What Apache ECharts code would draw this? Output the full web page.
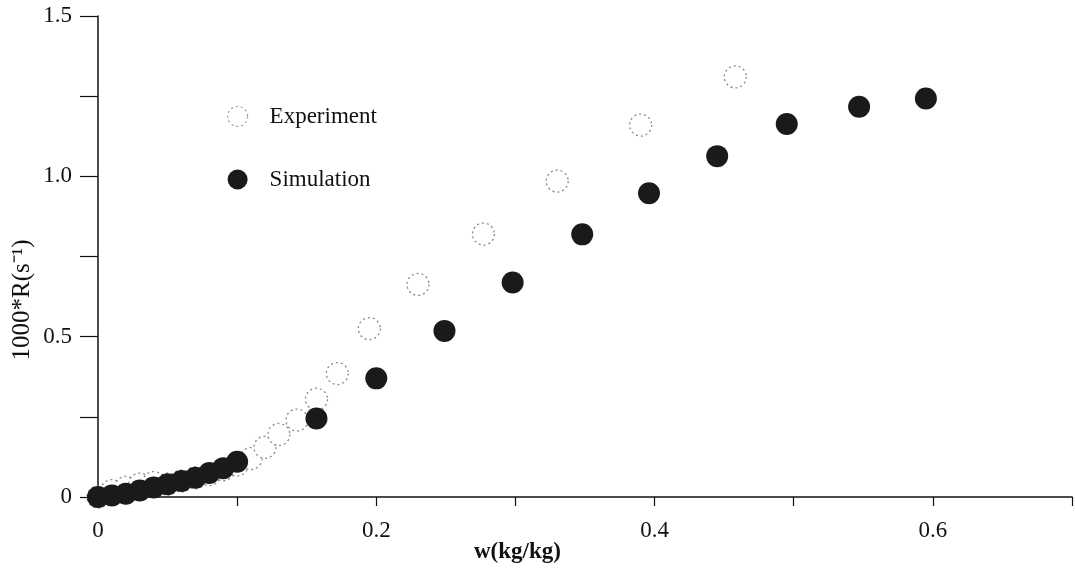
<!DOCTYPE html>
<html>
<head>
<meta charset="utf-8">
<script src="https://cdn.jsdelivr.net/npm/echarts@6/dist/echarts.min.js"></script>
<style>html,body{margin:0;padding:0;background:#fff}#c{width:1075px;height:574px}</style>
</head>
<body>
<div id="c"></div>
<script>
// Data
const expX = [0, 0.01, 0.02, 0.03, 0.04, 0.05, 0.06, 0.07, 0.08, 0.09, 0.10, 0.11, 0.12, 0.13, 0.143, 0.157, 0.172, 0.195, 0.23, 0.277, 0.33, 0.39, 0.458];
const expY = [0, 0.02, 0.03, 0.04, 0.045, 0.04, 0.05, 0.06, 0.07, 0.085, 0.10, 0.12, 0.155, 0.195, 0.24, 0.305, 0.385, 0.525, 0.663, 0.82, 0.985, 1.16, 1.31];
const simX = [0, 0.01, 0.02, 0.03, 0.04, 0.05, 0.06, 0.07, 0.08, 0.09, 0.10, 0.157, 0.2, 0.249, 0.298, 0.348, 0.396, 0.445, 0.495, 0.547, 0.595];
const simY = [0, 0.005, 0.01, 0.02, 0.03, 0.04, 0.05, 0.06, 0.075, 0.09, 0.11, 0.245, 0.37, 0.518, 0.669, 0.819, 0.947, 1.063, 1.163, 1.217, 1.243];
const xLabels = {0: '0', 2: '0.2', 4: '0.4', 6: '0.6'};
const yLabels = {0: '0', 2: '0.5', 4: '1.0', 6: '1.5'};
const seriesNames = ['Experiment', 'Simulation'];
const xName = 'w(kg/kg)';
const yName = '1000*R(s\u207B\u00B9)';

const font = 'Liberation Serif';
const chart = echarts.init(document.getElementById('c'));
chart.setOption({
  animation: false,
  backgroundColor: '#fff',
  grid: {left: 98, right: 2, top: 16, bottom: 77},
  legend: {
    left: 222, top: 100, orient: 'vertical', itemGap: 40,
    itemWidth: 20, itemHeight: 20,
    textStyle: {fontFamily: font, fontSize: 23, color: '#111', padding: [0, 0, 0, 17]},
    data: [
      {name: seriesNames[0], itemStyle: {color: '#fff', borderColor: '#999', borderWidth: 1.2, borderType: [2, 3]}},
      {name: seriesNames[1]}
    ]
  },
  graphic: [
    {type: 'text', left: 474, top: 541, style: {text: xName, fontFamily: font, fontSize: 23, fontWeight: 'bold', fill: '#111'}},
    {type: 'text', x: 22, y: 300, rotation: Math.PI / 2,
      style: {text: yName, fontFamily: font, fontSize: 25, fill: '#111', align: 'center', verticalAlign: 'middle'}}
  ],
  xAxis: {
    type: 'value', min: 0, max: 0.7, interval: 0.1,
    splitLine: {show: false},
    axisLine: {lineStyle: {color: '#111', width: 1.5}},
    axisTick: {length: 9, lineStyle: {color: '#111', width: 1.2}},
    axisLabel: {margin: 22, fontFamily: font, fontSize: 23, color: '#111',
      formatter: v => { const k = Math.round(v * 10); return xLabels[k] !== undefined ? xLabels[k] : ''; }}
  },
  yAxis: {
    type: 'value', min: 0, max: 1.5, interval: 0.25,
    splitLine: {show: false},
    axisLine: {show: true, lineStyle: {color: '#111', width: 1.5}},
    axisTick: {show: true, length: 18, lineStyle: {color: '#111', width: 1.2}},
    axisLabel: {margin: 26, fontFamily: font, fontSize: 23, color: '#111',
      formatter: v => { const k = Math.round(v * 4); return yLabels[k] !== undefined ? yLabels[k] : ''; }}
  },
  series: [
    {
      name: seriesNames[0], type: 'scatter', symbol: 'circle', symbolSize: 22, z: 2,
      itemStyle: {color: '#fff', borderColor: '#888', borderWidth: 1.3, borderType: [2, 3], opacity: 1},
      data: expX.map((x, i) => [x, expY[i]])
    },
    {
      name: seriesNames[1], type: 'scatter', symbol: 'circle', symbolSize: 22, z: 3,
      itemStyle: {color: '#1a1a1a', opacity: 1},
      data: simX.map((x, i) => [x, simY[i]])
    }
  ]
});
</script>
</body>
</html>
